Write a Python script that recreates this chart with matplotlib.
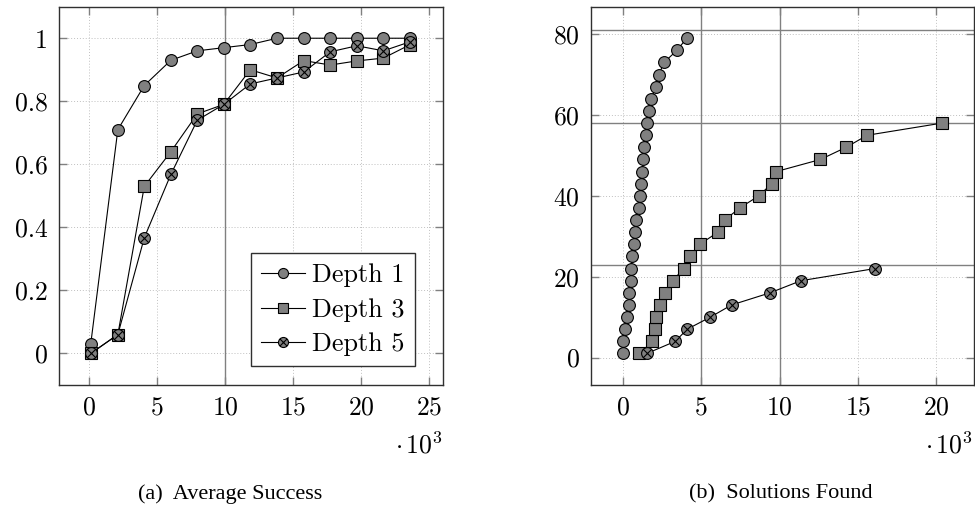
import matplotlib
matplotlib.use("Agg")
import matplotlib.pyplot as plt
from matplotlib.path import Path
from matplotlib.ticker import FixedLocator, FixedFormatter

plt.rcParams['font.family'] = ['cmr10', 'DejaVu Serif']
plt.rcParams['mathtext.fontset'] = 'cm'
plt.rcParams['axes.formatter.use_mathtext'] = True

# (a) average success, x in thousands of steps
succ_x = [0.15, 2.14, 4.08, 6.03, 7.97, 9.91, 11.86, 13.82, 15.78, 17.73, 19.68, 21.63, 23.6]
succ_d1 = [0.03, 0.71, 0.85, 0.93, 0.96, 0.97, 0.98, 1.0, 1.0, 1.0, 1.0, 1.0, 1.0]
succ_d3 = [0.0, 0.06, 0.53, 0.64, 0.76, 0.79, 0.90, 0.874, 0.929, 0.915, 0.928, 0.937, 0.98]
succ_d5 = [0.0, 0.06, 0.367, 0.568, 0.74, 0.79, 0.855, 0.874, 0.893, 0.957, 0.976, 0.96, 0.989]
succ_xticks = [0, 5, 10, 15, 20, 25]
succ_yticks = [0, 0.2, 0.4, 0.6, 0.8, 1.0]
succ_ylabels = ['0', '0.2', '0.4', '0.6', '0.8', '1']
succ_vlines = [10.0]

# (b) solutions found vs. time (thousands)
sol_d1_x = [0.0, 0.02, 0.17, 0.29, 0.38, 0.43, 0.52, 0.54, 0.61, 0.73, 0.78, 0.88, 1.03, 1.12,
            1.19, 1.25, 1.31, 1.39, 1.47, 1.54, 1.65, 1.81, 2.13, 2.31, 2.63, 3.46, 4.08]
sol_d1_y = [1, 4, 7, 10, 13, 16, 19, 22, 25, 28, 31, 34, 37, 40,
            43, 46, 49, 52, 55, 58, 61, 64, 67, 70, 73, 76, 79]
sol_d3_x = [1.07, 1.90, 2.03, 2.11, 2.38, 2.71, 3.19, 3.88, 4.28, 4.91, 6.07, 6.50, 7.46, 8.68,
            9.49, 9.78, 12.61, 14.24, 15.6, 20.36]
sol_d3_y = [1, 4, 7, 10, 13, 16, 19, 22, 25, 28, 31, 34, 37, 40, 43, 46, 49, 52, 55, 58]
sol_d5_x = [1.54, 3.35, 4.11, 5.59, 6.94, 9.39, 11.36, 16.07]
sol_d5_y = [1, 4, 7, 10, 13, 16, 19, 22]
sol_xticks = [0, 5, 10, 15, 20]
sol_yticks = [0, 20, 40, 60, 80]
sol_vlines = [5.0, 10.0]
sol_hlines = [81, 58, 23]

labels = ['Depth 1', 'Depth 3', 'Depth 5']

# circle with a cross inside (otimes)
s = 0.7071
cross = Path([(-s, -s), (s, s), (-s, s), (s, -s)],
             [Path.MOVETO, Path.LINETO, Path.MOVETO, Path.LINETO])
otimes = Path.make_compound_path(Path.unit_circle(), cross)
markers = ['o', 's', otimes]
msizes = [8.5, 8, 8.5]

fig = plt.figure(figsize=(9.75, 5.12), dpi=100)
ax1 = fig.add_axes([58.7 / 975, 127 / 512, 384.3 / 975, 378.3 / 512])
ax2 = fig.add_axes([590.7 / 975, 127 / 512, 383.3 / 975, 378.3 / 512])


def style(ax):
    ax.grid(True, linestyle=(0, (1, 2)), color='#c0c0c0', linewidth=0.7)
    ax.set_axisbelow(True)
    ax.tick_params(direction='in', top=True, right=True, length=6, width=1,
                   color='#808080', labelsize=18.5, pad=8)
    for sp in ax.spines.values():
        sp.set_color('#303030')
        sp.set_linewidth(1)


style(ax1)
for v in succ_vlines:
    ax1.axvline(v, color='#808080', lw=1, zorder=1)
for ys, m, ms, lab in zip([succ_d1, succ_d3, succ_d5], markers, msizes, labels):
    ax1.plot(succ_x, ys, color='black', lw=0.8, marker=m, markersize=ms,
             markerfacecolor='#808080', markeredgecolor='black', markeredgewidth=0.8,
             label=lab, zorder=3)
ax1.set_xlim(-2.2, 26.0)
ax1.set_ylim(-0.1, 1.1)
ax1.xaxis.set_major_locator(FixedLocator(succ_xticks))
ax1.yaxis.set_major_locator(FixedLocator(succ_yticks))
ax1.yaxis.set_major_formatter(FixedFormatter(succ_ylabels))
leg = ax1.legend(loc='upper left', bbox_to_anchor=(0.5, 0.348), borderaxespad=0,
                 fontsize=18.8, numpoints=1, handlelength=1.7, handletextpad=0.28,
                 labelspacing=0.42, borderpad=0.38, fancybox=False, framealpha=1,
                 markerscale=0.85)
leg.get_frame().set_edgecolor('#303030')
leg.get_frame().set_linewidth(1)

style(ax2)
for v in sol_vlines:
    ax2.axvline(v, color='#808080', lw=1, zorder=1)
for h in sol_hlines:
    ax2.axhline(h, color='#808080', lw=1, zorder=1)
for xs, ys, m, ms in zip([sol_d1_x, sol_d3_x, sol_d5_x], [sol_d1_y, sol_d3_y, sol_d5_y],
                         markers, msizes):
    ax2.plot(xs, ys, color='black', lw=0.8, marker=m, markersize=ms,
             markerfacecolor='#808080', markeredgecolor='black', markeredgewidth=0.8,
             zorder=3)
ax2.set_xlim(-2.04, 22.4)
ax2.set_ylim(-6.8, 86.8)
ax2.xaxis.set_major_locator(FixedLocator(sol_xticks))
ax2.yaxis.set_major_locator(FixedLocator(sol_yticks))

fig.text(443 / 975, 1 - 445 / 512, r'$\cdot\,10^3$', ha='right', va='center', fontsize=18.5)
fig.text(973 / 975, 1 - 445 / 512, r'$\cdot\,10^3$', ha='right', va='center', fontsize=18.5)

fig.text(230 / 975, 1 - 494 / 512, '(a)  Average Success', ha='center', va='center',
         fontsize=16, family='Liberation Serif')
fig.text(781 / 975, 1 - 494 / 512, '(b)  Solutions Found', ha='center', va='center',
         fontsize=16, family='Liberation Serif')

fig.savefig('out.png', dpi=100)
